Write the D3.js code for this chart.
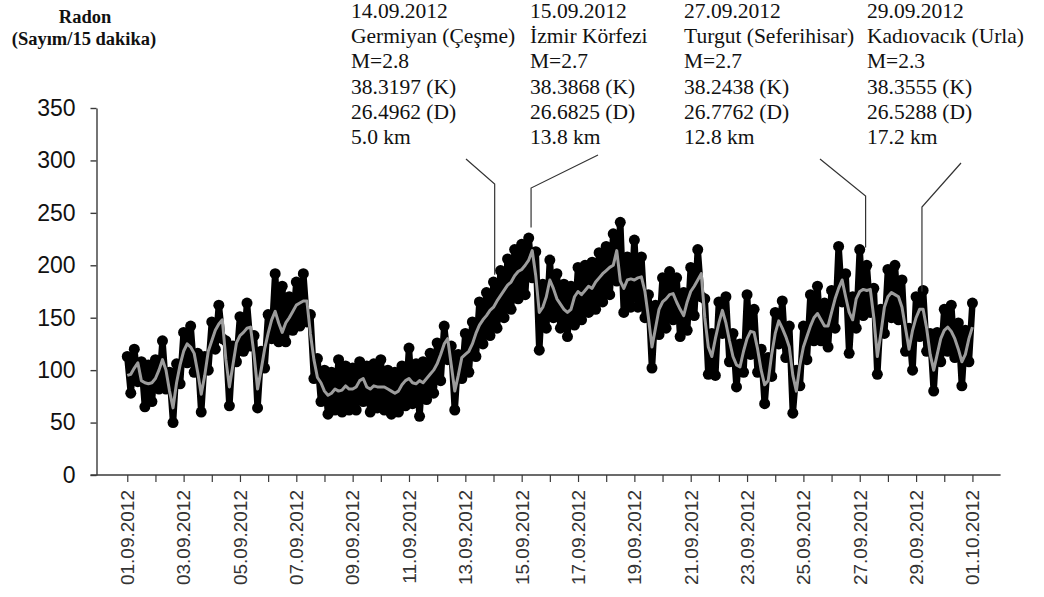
<!DOCTYPE html>
<html>
<head>
<meta charset="utf-8">
<script src="https://cdn.jsdelivr.net/npm/d3@7"></script>
<style>
  body { margin: 0; background: #fff; }
  svg { display: block; }
</style>
</head>
<body>
<svg id="chart" width="1044" height="597"></svg>
<script>
// Radon counts per 15 minutes, September 2012, sampled every 3 hours from 01.09.2012 00:00
const seriesStart = Date.UTC(2012, 8, 1, 0);
const stepHours = 3;

// raw readings (black markers)
const counts = [
  113, 78, 120, 89, 108, 65, 105, 70,
  110, 82, 128, 82, 98, 50, 106, 87,
  136, 107, 142, 98, 116, 60, 113, 100,
  146, 120, 162, 130, 128, 66, 123, 108,
  151, 118, 164, 123, 133, 64, 118, 102,
  153, 130, 192, 127, 180, 127, 170, 138,
  184, 142, 192, 146, 153, 92, 111, 70,
  100, 58, 98, 62, 110, 60, 104, 62,
  102, 62, 108, 70, 104, 60, 106, 64,
  110, 62, 100, 58, 98, 60, 104, 66,
  121, 68, 106, 56, 108, 72, 116, 78,
  126, 90, 142, 110, 123, 62, 115, 92,
  135, 98, 146, 113, 165, 125, 174, 133,
  184, 140, 195, 150, 206, 158, 215, 168,
  220, 172, 226, 188, 213, 119, 182, 140,
  205, 150, 192, 140, 182, 132, 180, 143,
  198, 148, 200, 155, 203, 158, 212, 165,
  218, 172, 230, 185, 241, 155, 208, 160,
  224, 160, 208, 150, 172, 102, 162, 134,
  188, 140, 194, 148, 188, 132, 174, 138,
  198, 152, 215, 170, 168, 96, 135, 95,
  165, 135, 170, 108, 135, 84, 125, 98,
  172, 115, 158, 98, 120, 68, 112, 94,
  155, 125, 166, 112, 142, 59, 100, 85,
  142, 110, 172, 128, 180, 128, 164, 122,
  176, 140, 218, 165, 192, 116, 170, 140,
  215, 152, 200, 155, 178, 96, 158, 135,
  196, 150, 200, 148, 186, 118, 140, 100,
  170, 132, 176, 118, 135, 80, 136, 108,
  158, 118, 162, 112, 145, 85, 138, 108,
  164
];

// moving average (grey line)
const smoothed = [
  95, 96, 102, 107, 90, 88, 87, 88,
  92, 100, 110, 100, 80, 64, 88, 105,
  118, 125, 122, 116, 98, 77, 95, 118,
  128, 138, 144, 148, 110, 84, 105, 126,
  133, 136, 140, 141, 115, 82, 100, 120,
  135, 148, 156, 145, 136, 145, 150, 156,
  162, 164, 166, 166, 135, 110, 93, 88,
  80, 76, 78, 82, 80, 81, 85, 82,
  82, 84, 90, 92, 84, 82, 85, 84,
  84, 84, 82, 80, 78, 80, 86, 90,
  92, 88, 87, 90, 88, 92, 96, 100,
  106, 115, 125, 130, 105, 80, 95, 112,
  115, 118, 125, 135, 143, 148, 152, 157,
  160, 166, 171, 176, 181, 184, 190, 194,
  196, 200, 205, 214, 190, 155, 160, 170,
  186, 178, 168, 163, 158, 155, 158, 170,
  175, 172, 176, 180, 178, 184, 188, 192,
  195, 198, 200, 214, 185, 178, 186, 187,
  186, 188, 189, 175, 150, 122, 140, 158,
  165, 168, 172, 173, 165, 158, 152, 165,
  175, 180, 186, 192, 150, 122, 113, 130,
  145, 157, 145, 128, 113, 105, 103, 118,
  130, 137, 136, 120, 100, 86, 90, 115,
  135, 147, 140, 132, 122, 95, 80, 105,
  122, 132, 142, 150, 154, 148, 142, 142,
  155, 168, 178, 186, 170, 155, 148, 168,
  175, 177, 176, 177, 150, 113, 135, 160,
  170, 174, 172, 170, 160, 140, 120, 138,
  150, 158, 158, 140, 115, 100, 115, 130,
  138, 141, 137, 130, 120, 108, 115, 130,
  141
];

const yTicks = [0, 50, 100, 150, 200, 250, 300, 350];
const dateLabels = [
  "01.09.2012", "03.09.2012", "05.09.2012", "07.09.2012", "09.09.2012",
  "11.09.2012", "13.09.2012", "15.09.2012", "17.09.2012", "19.09.2012",
  "21.09.2012", "23.09.2012", "25.09.2012", "27.09.2012", "29.09.2012",
  "01.10.2012"
];

// earthquakes
const quakeDates = ["14.09.2012", "15.09.2012", "27.09.2012", "29.09.2012"];
const quakePlaces = ["Germiyan (Çeşme)", "İzmir Körfezi", "Turgut (Seferihisar)", "Kadıovacık (Urla)"];
const quakeMagnitudes = [2.8, 2.7, 2.7, 2.3];
const quakeLat = ["38.3197", "38.3868", "38.2438", "38.3555"];
const quakeLon = ["26.4962", "26.6825", "26.7762", "26.5288"];
const quakeDepthKm = ["5.0", "13.8", "12.8", "17.2"];
const quakeTimes = [
  Date.UTC(2012, 8, 14, 1), Date.UTC(2012, 8, 15, 8),
  Date.UTC(2012, 8, 27, 5), Date.UTC(2012, 8, 29, 5)
];
const pointerTipValues = [191, 236, 217, 175];

// ---- layout ----
const svg = d3.select("#chart");
const sans = "'Liberation Sans', Arial, sans-serif";
const serif = "'Liberation Serif', 'Times New Roman', serif";
const axisX = 96.5, axisY = 475;

const x = d3.scaleUtc()
  .domain([Date.UTC(2012, 7, 31), Date.UTC(2012, 9, 2)])
  .range([99.1, 1000.6]);
const y = d3.scaleLinear().domain([0, 350]).range([axisY, 108]);

const times = counts.map((_, i) => new Date(seriesStart + i * stepHours * 3600e3));

// y axis
const yAxis = svg.append("g")
  .attr("transform", `translate(${axisX},0)`)
  .call(d3.axisLeft(y).tickValues(yTicks).tickSize(6).tickSizeOuter(0).tickPadding(15));
yAxis.select(".domain").attr("stroke", "#3a3a3a").attr("stroke-width", 1.4);
yAxis.selectAll(".tick line").attr("stroke", "#3a3a3a").attr("stroke-width", 1.4);
yAxis.selectAll(".tick text")
  .attr("font-family", sans).attr("font-size", 23).attr("fill", "#111");

// x axis: baseline, daily ticks, rotated labels
const parseDay = d3.utcParse("%d.%m.%Y");
const dayTicks = d3.utcDay.range(Date.UTC(2012, 8, 1), Date.UTC(2012, 9, 2));
svg.append("line")
  .attr("x1", axisX - 6).attr("x2", x.range()[1])
  .attr("y1", axisY).attr("y2", axisY)
  .attr("stroke", "#3a3a3a").attr("stroke-width", 1.4);
const xAxis = svg.append("g")
  .attr("transform", `translate(0,${axisY})`)
  .call(d3.axisBottom(x).tickValues(dayTicks).tickSize(7).tickFormat(""));
xAxis.select(".domain").remove();
xAxis.selectAll(".tick line").attr("stroke", "#3a3a3a").attr("stroke-width", 1.2);

svg.append("g").selectAll("text")
  .data(dateLabels)
  .join("text")
  .attr("transform", d => `translate(${x(parseDay(d))},490) rotate(-90)`)
  .attr("dy", "0.36em")
  .attr("text-anchor", "end")
  .attr("font-family", sans).attr("font-size", 19).attr("fill", "#333")
  .text(d => d);

// y axis title
const title = svg.append("g")
  .attr("font-family", serif).attr("font-weight", "bold").attr("font-size", 18.5)
  .attr("text-anchor", "middle").attr("fill", "#111");
title.append("text").attr("x", 85).attr("y", 23).text("Radon");
title.append("text").attr("x", 84).attr("y", 45).text("(Sayım/15 dakika)");

// raw readings: connecting line and markers
const rawLine = d3.line().x((d, i) => x(times[i])).y(d => y(d));
svg.append("path")
  .datum(counts)
  .attr("d", rawLine)
  .attr("fill", "none").attr("stroke", "#000").attr("stroke-width", 6.5)
  .attr("stroke-linejoin", "round").attr("stroke-linecap", "round");
svg.append("g").selectAll("circle")
  .data(counts)
  .join("circle")
  .attr("cx", (d, i) => x(times[i]))
  .attr("cy", d => y(d))
  .attr("r", 5.5)
  .attr("fill", "#000");

// moving average
svg.append("path")
  .datum(smoothed)
  .attr("d", d3.line().x((d, i) => x(times[i])).y(d => y(d)))
  .attr("fill", "none").attr("stroke", "#9c9c9c").attr("stroke-width", 3)
  .attr("stroke-linejoin", "round");

// earthquake notes
const noteX = [351, 530, 684, 867];
const noteBaseline = 18, noteLeading = 25.2;
const leaderStart = [[466, 159], [598, 155], [820, 159], [961, 163]];
const leaderElbowY = [184, 188, 196, 207];

quakeDates.forEach((date, k) => {
  const lines = [
    date,
    quakePlaces[k],
    "M=" + quakeMagnitudes[k].toFixed(1),
    quakeLat[k] + " (K)",
    quakeLon[k] + " (D)",
    quakeDepthKm[k] + " km"
  ];
  svg.append("g")
    .attr("font-family", serif).attr("font-size", 21.5).attr("fill", "#111")
    .selectAll("text")
    .data(lines)
    .join("text")
    .attr("x", noteX[k])
    .attr("y", (d, i) => noteBaseline + i * noteLeading)
    .text(d => d);

  const px = x(quakeTimes[k]);
  svg.append("path")
    .attr("d", d3.line()([
      leaderStart[k],
      [px, leaderElbowY[k]],
      [px, y(pointerTipValues[k])]
    ]))
    .attr("fill", "none").attr("stroke", "#333").attr("stroke-width", 1.2);
});
</script>
</body>
</html>
